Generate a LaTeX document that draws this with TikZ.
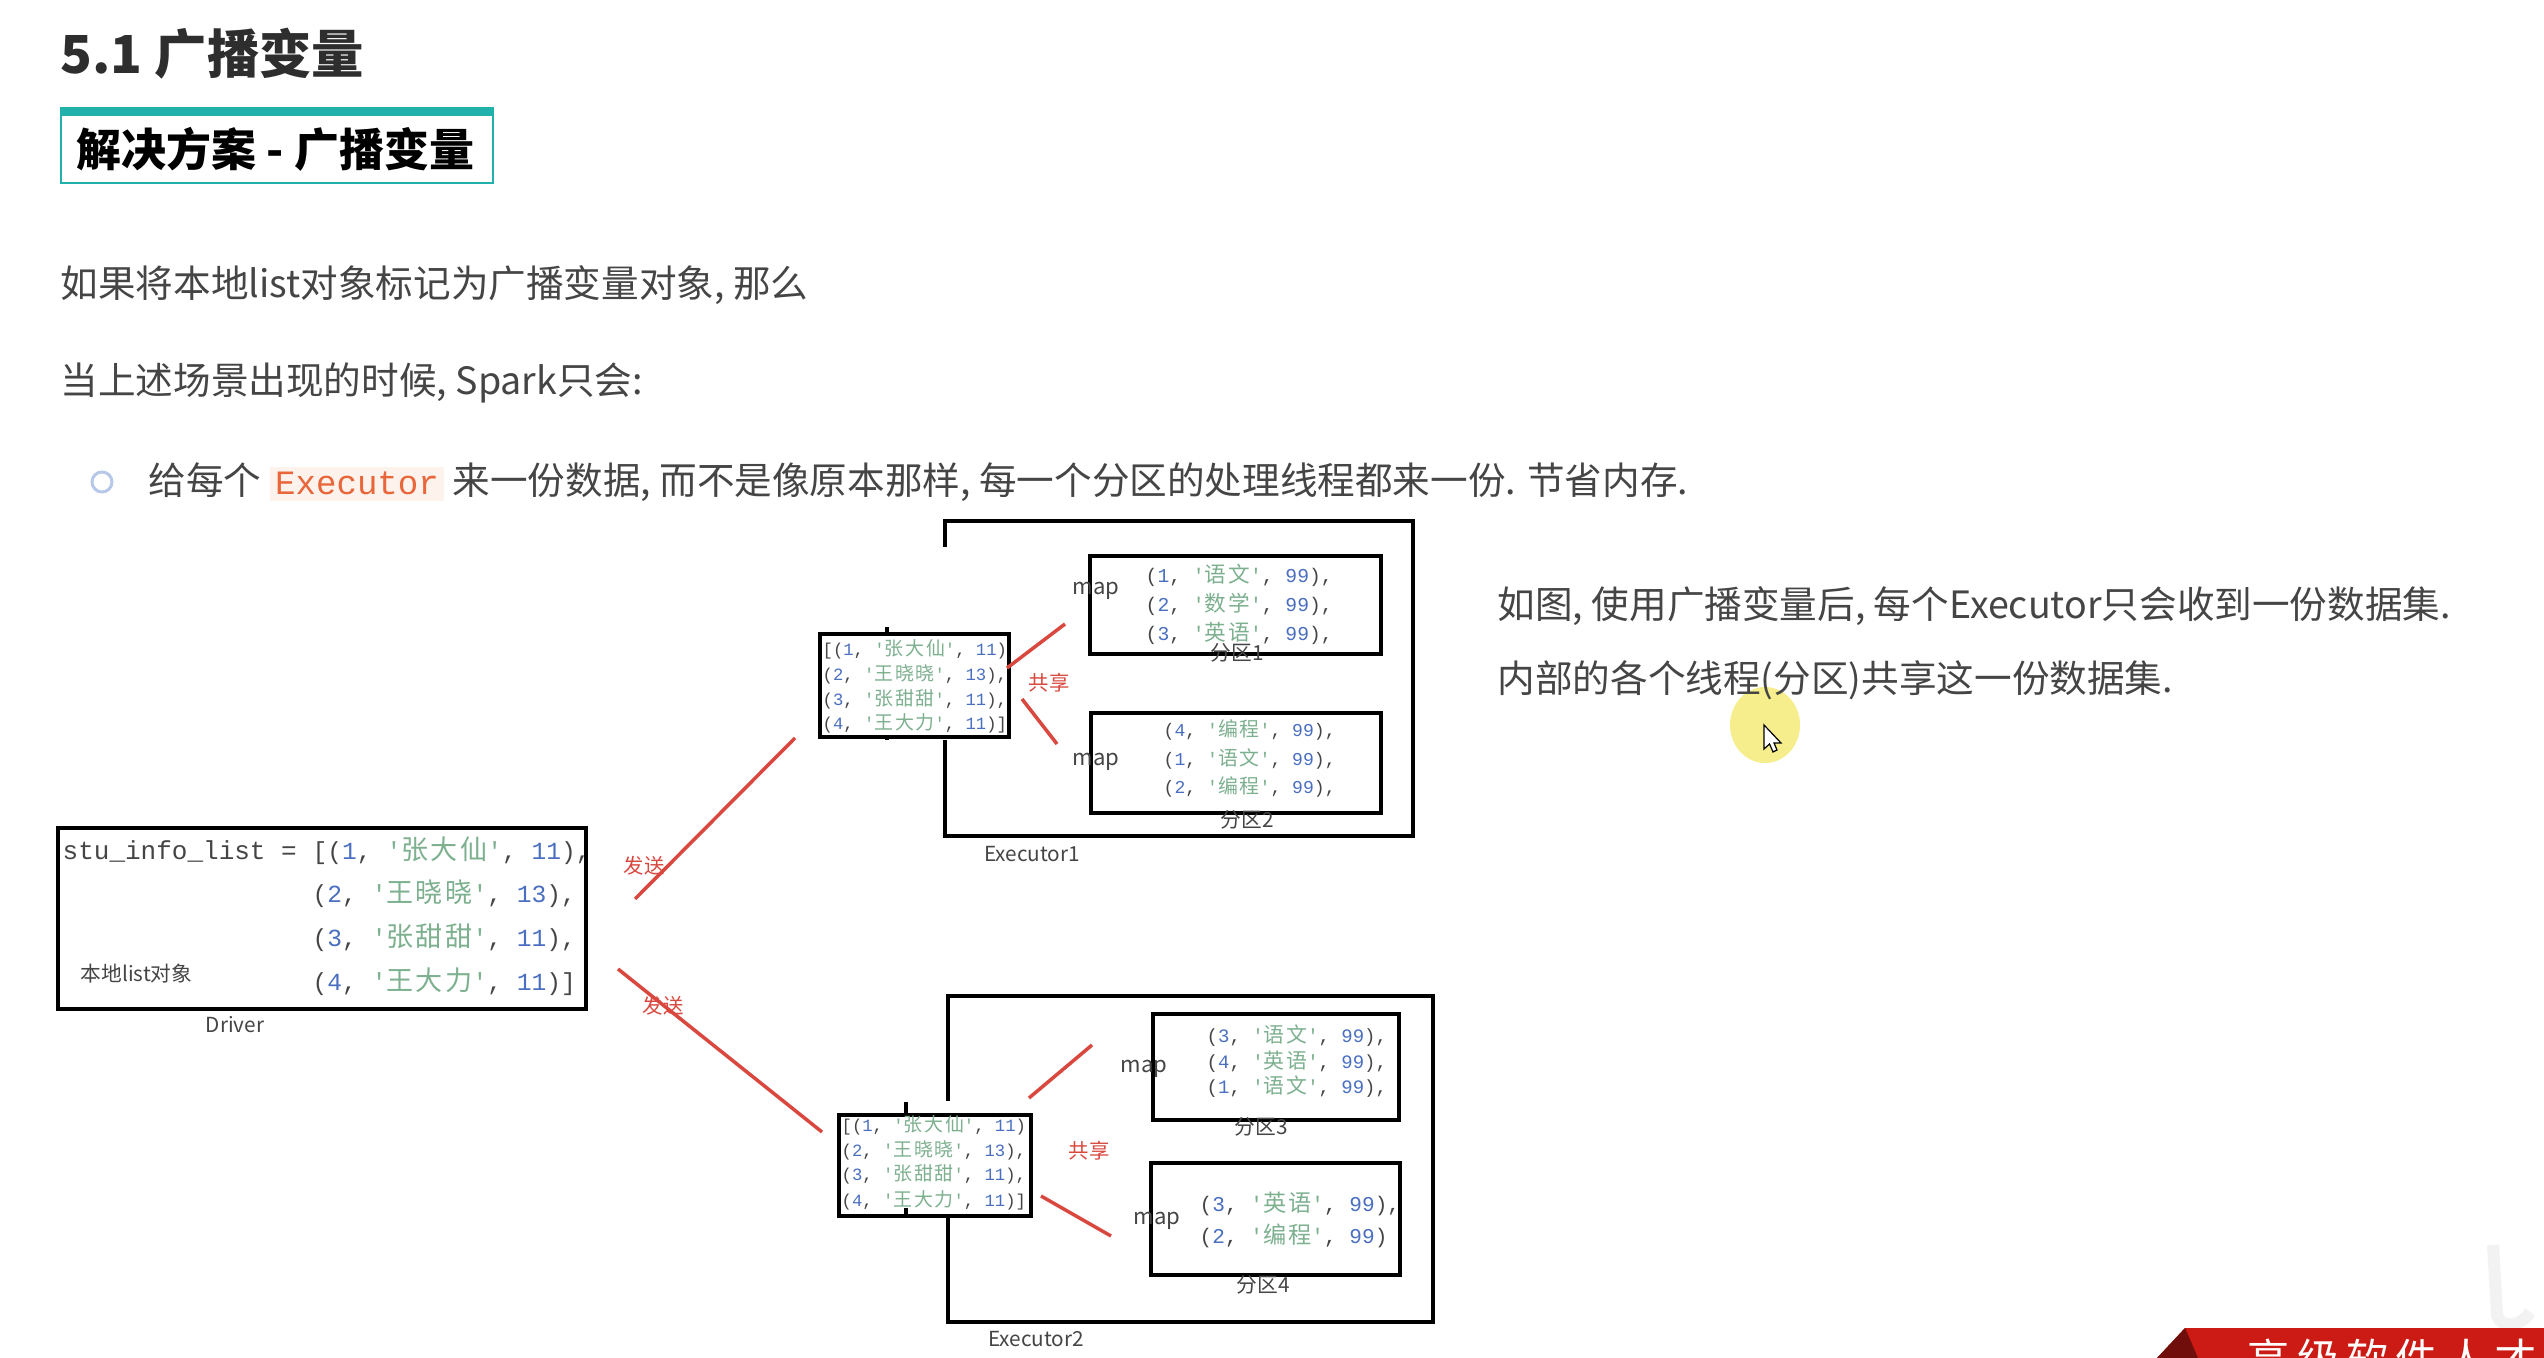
\documentclass[tikz,border=0pt]{standalone}
\usepackage{fontspec}
\usepackage{xcolor}
\usepackage{tikz}
\usetikzlibrary{shapes.geometric}
\setmainfont{Noto Sans CJK SC}
\setmonofont{Liberation Mono}
\newfontfamily\codecjk[Scale=1.1,LetterSpace=9]{Noto Sans CJK SC}
\newfontfamily\bannerfont[LetterSpace=17]{Noto Sans CJK SC}
\definecolor{bodygray}{HTML}{454545}
\definecolor{headgray}{HTML}{2E2E2E}
\definecolor{tealbar}{HTML}{20B2AA}
\definecolor{codeblue}{HTML}{4A6FC0}
\definecolor{codegreen}{HTML}{7DB08F}
\definecolor{codeparen}{HTML}{454545}
\definecolor{sendred}{HTML}{D9483F}
\definecolor{execorange}{HTML}{E8663A}
\definecolor{execback}{HTML}{FDF3EC}
\definecolor{bannerred}{HTML}{CC1A14}
\definecolor{dotblue}{HTML}{B8C8E8}
\definecolor{pointeryellow}{HTML}{F6EE8C}
\newcommand{\rowcode}[3]{(\textcolor{codeblue}{#1}, \textcolor{codegreen}{'{\codecjk #2}'}, \textcolor{codeblue}{#3})}
\newcommand{\execword}{{\setlength{\fboxsep}{1.5pt}\colorbox{execback}{\textcolor{execorange}{\fontsize{9.7pt}{12pt}\ttfamily Executor}}}}
\tikzset{
  bodytext/.style={anchor=west,inner sep=0pt,color=bodygray,font=\fontsize{10.7pt}{13pt}\selectfont},
  smalltext/.style={inner sep=0pt,color=bodygray,font=\fontsize{5.9pt}{7pt}\selectfont},
  maptext/.style={inner sep=0pt,color=bodygray,font=\fontsize{6.3pt}{7pt}\selectfont},
  sharetext/.style={inner sep=0pt,color=sendred,font=\fontsize{5.8pt}{7pt}\selectfont},
  drivercode/.style={anchor=mid west,inner sep=0pt,color=codeparen,font=\fontsize{7pt}{9pt}\ttfamily},
  partcode/.style={anchor=mid west,inner sep=0pt,color=codeparen,font=\fontsize{5.6pt}{7pt}\ttfamily},
  listcode/.style={anchor=mid west,inner sep=0pt,color=codeparen,font=\fontsize{4.9pt}{7pt}\ttfamily},
  boxline/.style={line width=0.04cm,color=black},
  boxnode/.style={draw=black,line width=0.04cm,anchor=north west,inner sep=0pt},
  sendline/.style={line width=0.035cm,color=sendred}
}
\begin{document}
\begin{tikzpicture}
\useasboundingbox (0cm,0cm) rectangle (25.44cm,-13.58cm);
\fill [white] (0cm,0cm) rectangle (25.44cm,-13.58cm);

\node [anchor=west,inner sep=0pt,color=headgray,font=\fontsize{14.9pt}{17pt}\selectfont\bfseries] (title) at (0.6cm,-0.54cm) {5.1 广播变量};
\node [boxnode,draw=tealbar,line width=0.02cm,minimum width=4.32cm,minimum height=0.75cm] (solbox) at (0.6cm,-1.07cm) {};
\fill [tealbar] (0.6cm,-1.07cm) rectangle (4.92cm,-1.16cm);
\node [anchor=west,inner sep=0pt,color=black,font=\fontsize{12.8pt}{15pt}\selectfont\bfseries] (soltext) at (0.76cm,-1.49cm) {解决方案 - 广播变量};

\node [bodytext] (line1) at (0.6cm,-2.85cm) {如果将本地list对象标记为广播变量对象, 那么};
\node [bodytext] (line2) at (0.6cm,-3.83cm) {当上述场景出现的时候, Spark只会:};
\node [circle,draw=dotblue,line width=0.03cm,minimum size=0.2cm,inner sep=0pt] (dot) at (1.02cm,-4.82cm) {};
\node [bodytext,anchor=base west] (line3) at (1.48cm,-4.95cm) {给每个 \execword{} 来一份数据, 而不是像原本那样, 每一个分区的处理线程都来一份. 节省内存.};

\node [bodytext] (note1) at (14.97cm,-6.06cm) {如图, 使用广播变量后, 每个Executor只会收到一份数据集.};
\fill [pointeryellow] (17.65cm,-7.25cm) ellipse (0.35cm and 0.38cm);
\node [bodytext] (note2) at (14.97cm,-6.80cm) {内部的各个线程(分区)共享这一份数据集.};
\draw [draw=black,fill=white,line width=0.012cm] (17.64cm,-7.25cm) -- (17.64cm,-7.49cm) -- (17.695cm,-7.44cm) -- (17.73cm,-7.52cm) -- (17.77cm,-7.50cm) -- (17.74cm,-7.43cm) -- (17.81cm,-7.43cm) -- cycle;

\node [boxnode,minimum width=5.28cm,minimum height=1.81cm] (driver) at (0.56cm,-8.26cm) {};
\node [drivercode,font=\fontsize{7.4pt}{9pt}\ttfamily] (d0) at (0.62cm,-8.50cm) {stu\_info\_list =};
\node [drivercode] (d1) at (3.12cm,-8.50cm) {[\rowcode{1}{张大仙}{11},};
\node [drivercode] (d2) at (3.12cm,-8.93cm) {\rowcode{2}{王晓晓}{13},};
\node [drivercode] (d3) at (3.12cm,-9.37cm) {\rowcode{3}{张甜甜}{11},};
\node [drivercode] (d4) at (3.12cm,-9.81cm) {\rowcode{4}{王大力}{11}]};
\node [smalltext] (localname) at (1.365cm,-9.74cm) {本地list对象};
\node [smalltext] (drivername) at (2.35cm,-10.25cm) {Driver};

\coordinate (sendupa) at (6.35cm,-8.99cm);
\coordinate (sendupb) at (7.95cm,-7.38cm);
\coordinate (senddowna) at (6.18cm,-9.69cm);
\coordinate (senddownb) at (8.22cm,-11.32cm);
\draw [sendline] (sendupa) -- (sendupb);
\draw [sendline] (senddowna) -- (senddownb);
\node [sharetext] (sendup) at (6.44cm,-8.66cm) {发送};
\node [sharetext] (senddown) at (6.63cm,-10.06cm) {发送};

\draw [boxline] (9.45cm,-5.47cm) -- (9.45cm,-5.21cm) -- (14.13cm,-5.21cm) -- (14.13cm,-8.36cm) -- (9.45cm,-8.36cm) -- (9.45cm,-7.40cm);
\node [smalltext] (exec1) at (10.32cm,-8.54cm) {Executor1};
\node [boxnode,fill=white,minimum width=1.89cm,minimum height=1.03cm] (list1) at (8.18cm,-6.32cm) {};
\draw [boxline] (8.87cm,-6.27cm) -- (8.87cm,-6.32cm);
\draw [boxline] (8.87cm,-7.35cm) -- (8.87cm,-7.40cm);
\node [listcode] (l11) at (8.22cm,-6.46cm) {[\rowcode{1}{张大仙}{11}};
\node [listcode] (l12) at (8.22cm,-6.71cm) {\rowcode{2}{王晓晓}{13},};
\node [listcode] (l13) at (8.22cm,-6.96cm) {\rowcode{3}{张甜甜}{11},};
\node [listcode] (l14) at (8.22cm,-7.20cm) {\rowcode{4}{王大力}{11}]};

\coordinate (share1a) at (10.07cm,-6.68cm);
\coordinate (share1b) at (10.65cm,-6.24cm);
\coordinate (share2a) at (10.22cm,-6.99cm);
\coordinate (share2b) at (10.57cm,-7.44cm);
\draw [sendline] (share1a) -- (share1b);
\draw [sendline] (share2a) -- (share2b);
\node [sharetext] (share1) at (10.49cm,-6.83cm) {共享};

\node [boxnode,minimum width=2.91cm,minimum height=0.98cm] (part1) at (10.88cm,-5.54cm) {};
\node [boxnode,minimum width=2.90cm,minimum height=1.00cm] (part2) at (10.89cm,-7.11cm) {};
\node [maptext] (map1) at (10.96cm,-5.91cm) {map};
\node [maptext] (map2) at (10.96cm,-7.62cm) {map};
\node [partcode] (p11) at (11.45cm,-5.73cm) {\rowcode{1}{语文}{99},};
\node [partcode] (p12) at (11.45cm,-6.02cm) {\rowcode{2}{数学}{99},};
\node [partcode] (p13) at (11.45cm,-6.31cm) {\rowcode{3}{英语}{99},};
\node [partcode,font=\fontsize{5.15pt}{7pt}\ttfamily] (p21) at (11.63cm,-7.27cm) {\rowcode{4}{编程}{99},};
\node [partcode,font=\fontsize{5.15pt}{7pt}\ttfamily] (p22) at (11.63cm,-7.56cm) {\rowcode{1}{语文}{99},};
\node [partcode,font=\fontsize{5.15pt}{7pt}\ttfamily] (p23) at (11.63cm,-7.84cm) {\rowcode{2}{编程}{99},};
\node [smalltext] (name1) at (12.37cm,-6.53cm) {分区1};
\node [smalltext] (name2) at (12.47cm,-8.20cm) {分区2};

\draw [boxline] (9.48cm,-11.01cm) -- (9.48cm,-9.96cm) -- (14.33cm,-9.96cm) -- (14.33cm,-13.22cm) -- (9.48cm,-13.22cm) -- (9.48cm,-12.17cm);
\node [smalltext] (exec2) at (10.36cm,-13.39cm) {Executor2};
\node [boxnode,fill=white,minimum width=1.92cm,minimum height=1.01cm] (list2) at (8.37cm,-11.13cm) {};
\draw [boxline] (9.06cm,-11.02cm) -- (9.06cm,-11.13cm);
\draw [boxline] (9.06cm,-12.08cm) -- (9.06cm,-12.18cm);
\node [listcode] (l21) at (8.41cm,-11.22cm) {[\rowcode{1}{张大仙}{11}};
\node [listcode] (l22) at (8.41cm,-11.47cm) {\rowcode{2}{王晓晓}{13},};
\node [listcode] (l23) at (8.41cm,-11.71cm) {\rowcode{3}{张甜甜}{11},};
\node [listcode] (l24) at (8.41cm,-11.97cm) {\rowcode{4}{王大力}{11}]};

\coordinate (share3a) at (10.29cm,-10.98cm);
\coordinate (share3b) at (10.92cm,-10.45cm);
\coordinate (share4a) at (10.41cm,-11.96cm);
\coordinate (share4b) at (11.11cm,-12.36cm);
\draw [sendline] (share3a) -- (share3b);
\draw [sendline] (share4a) -- (share4b);
\node [sharetext] (share2) at (10.89cm,-11.51cm) {共享};

\node [boxnode,minimum width=2.46cm,minimum height=1.06cm] (part3) at (11.51cm,-10.12cm) {};
\node [boxnode,minimum width=2.49cm,minimum height=1.12cm] (part4) at (11.49cm,-11.61cm) {};
\node [maptext] (map3) at (11.44cm,-10.69cm) {map};
\node [maptext] (map4) at (11.57cm,-12.21cm) {map};
\node [partcode,font=\fontsize{5.4pt}{7pt}\ttfamily] (p31) at (12.06cm,-10.33cm) {\rowcode{3}{语文}{99},};
\node [partcode,font=\fontsize{5.4pt}{7pt}\ttfamily] (p32) at (12.06cm,-10.59cm) {\rowcode{4}{英语}{99},};
\node [partcode,font=\fontsize{5.4pt}{7pt}\ttfamily] (p33) at (12.06cm,-10.84cm) {\rowcode{1}{语文}{99},};
\node [partcode,font=\fontsize{6pt}{7pt}\ttfamily] (p41) at (11.99cm,-12.02cm) {\rowcode{3}{英语}{99},};
\node [partcode,font=\fontsize{6pt}{7pt}\ttfamily] (p42) at (11.99cm,-12.34cm) {\rowcode{2}{编程}{99}};
\node [smalltext] (name3) at (12.61cm,-11.27cm) {分区3};
\node [smalltext] (name4) at (12.63cm,-12.85cm) {分区4};

\begin{scope}
\clip (0cm,0cm) rectangle (25.44cm,-13.58cm);
\draw [line width=0.12cm,color=gray!10] (24.93cm,-12.45cm) -- (24.97cm,-13.15cm) .. controls (25.0cm,-13.28cm) and (25.2cm,-13.28cm) .. (25.3cm,-13.12cm);
\fill [bannerred] (21.85cm,-13.28cm) -- (25.44cm,-13.28cm) -- (25.44cm,-13.58cm) -- (21.57cm,-13.58cm) -- cycle;
\fill [bannerred!55!black] (21.85cm,-13.28cm) -- (21.98cm,-13.58cm) -- (21.57cm,-13.58cm) -- cycle;
\node [anchor=west,inner sep=0pt,color=white,font=\fontsize{12pt}{14pt}\bannerfont] (banner) at (22.47cm,-13.58cm) {高级软件人才};
\end{scope}
\end{tikzpicture}
\end{document}
